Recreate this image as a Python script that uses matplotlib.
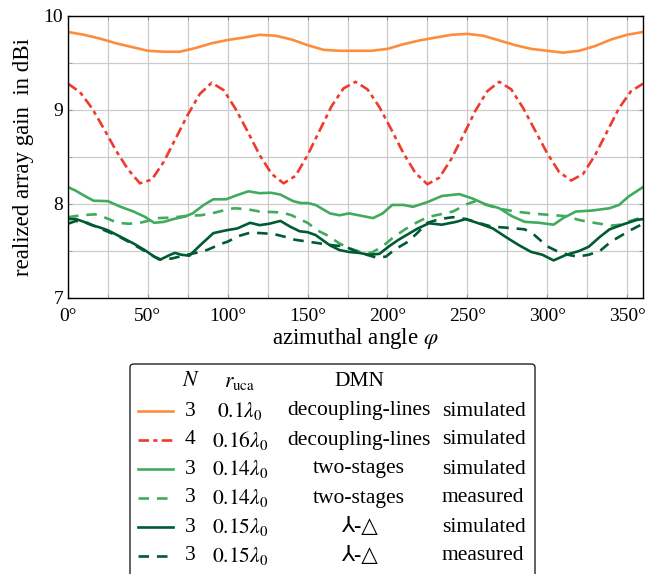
# realized array gain vs azimuthal angle
import numpy as np
import matplotlib
matplotlib.use('Agg')
import matplotlib.pyplot as plt
from matplotlib.lines import Line2D
from matplotlib.patches import FancyBboxPatch
from matplotlib.ticker import MultipleLocator, FuncFormatter

plt.rcParams['font.family'] = ['Liberation Serif', 'DejaVu Serif', 'DejaVu Sans']
plt.rcParams['mathtext.fontset'] = 'stix'

# N=3, 0.1 lambda, decoupling-lines, simulated
phi_orange = [0, 10, 20, 30, 40, 50, 60, 70, 80, 90, 100, 110, 120, 130, 140, 150, 160, 170, 180,
              190, 200, 210, 220, 230, 240, 250, 260, 270, 280, 290, 300, 310, 320, 330, 340, 350, 360]
g_orange = [9.83, 9.80, 9.76, 9.71, 9.67, 9.63, 9.62, 9.62, 9.66, 9.71, 9.745, 9.77, 9.80, 9.79, 9.75,
            9.69, 9.64, 9.63, 9.63, 9.63, 9.65, 9.70, 9.74, 9.77, 9.80, 9.81, 9.79, 9.74, 9.69, 9.65,
            9.63, 9.61, 9.63, 9.68, 9.75, 9.80, 9.83]

# N=4, 0.16 lambda, decoupling-lines, simulated
phi_red = [0, 7.5, 15, 22.5, 30, 37.5, 45, 52.5, 60, 67.5, 75, 82.5, 90, 97.5, 105, 112.5, 120, 127.5,
           135, 142.5, 150, 157.5, 165, 172.5, 180, 187.5, 195, 202.5, 210, 217.5, 225, 232.5, 240,
           247.5, 255, 262.5, 270, 277.5, 285, 292.5, 300, 307.5, 315, 322.5, 330, 337.5, 345, 352.5, 360]
g_red = [9.28, 9.19, 9.02, 8.80, 8.57, 8.37, 8.22, 8.26, 8.45, 8.70, 8.95, 9.17, 9.29, 9.21, 9.01,
         8.77, 8.52, 8.32, 8.22, 8.30, 8.52, 8.78, 9.04, 9.23, 9.30, 9.22, 9.03, 8.79, 8.54, 8.33,
         8.21, 8.28, 8.48, 8.73, 8.99, 9.20, 9.30, 9.22, 9.02, 8.78, 8.54, 8.34, 8.25, 8.32, 8.52,
         8.77, 9.02, 9.20, 9.28]

# N=3, 0.14 lambda, two-stages, simulated
phi_ts_sim = [0, 5, 10, 16, 25, 33, 41, 48, 54, 60, 66, 73, 78, 85, 91, 99, 106, 113, 120, 127, 133,
              141, 146, 150, 155, 164, 170, 176, 182, 191, 197, 203, 210, 216, 225, 234, 245, 253, 261,
              270, 278, 286, 295, 304, 310, 318, 328, 339, 345, 351, 360]
g_ts_sim = [8.18, 8.14, 8.09, 8.035, 8.03, 7.97, 7.92, 7.865, 7.80, 7.81, 7.84, 7.865, 7.90, 7.99,
            8.05, 8.05, 8.095, 8.135, 8.115, 8.12, 8.10, 8.03, 8.01, 8.01, 7.99, 7.90, 7.88, 7.90,
            7.88, 7.85, 7.90, 7.99, 7.99, 7.97, 8.02, 8.085, 8.105, 8.06, 8.00, 7.955, 7.87, 7.81,
            7.80, 7.78, 7.85, 7.92, 7.93, 7.955, 7.99, 8.08, 8.18]

# N=3, 0.14 lambda, two-stages, measured
phi_ts_meas = [0, 8, 17, 24, 31, 38, 45, 50, 56, 65, 75, 83, 90, 97, 104, 112, 120, 127, 134, 140,
               146, 150, 156, 162, 170, 176, 183, 190, 197, 204, 211, 218, 225, 233, 241, 250, 255,
               262, 270, 280, 290, 297, 305, 312, 320, 326, 333, 340, 346, 352, 360]
g_ts_meas = [7.86, 7.88, 7.89, 7.85, 7.80, 7.79, 7.80, 7.82, 7.85, 7.855, 7.875, 7.88, 7.90, 7.93,
             7.955, 7.945, 7.92, 7.915, 7.91, 7.88, 7.83, 7.80, 7.72, 7.67, 7.58, 7.53, 7.49, 7.48,
             7.55, 7.65, 7.73, 7.80, 7.86, 7.89, 7.92, 8.00, 8.03, 7.99, 7.95, 7.92, 7.90, 7.89,
             7.88, 7.87, 7.83, 7.81, 7.79, 7.77, 7.78, 7.82, 7.86]

# N=3, 0.15 lambda, Y-Delta, simulated
phi_yd_sim = [0, 5, 10, 14, 20, 25, 33, 41, 48, 54, 58, 64, 67, 71, 76, 83, 91, 99, 106, 114, 120,
              126, 133, 139, 145, 150, 155, 164, 170, 176, 182, 189, 195, 201, 207, 214, 219, 226,
              234, 243, 249, 257, 266, 274, 282, 290, 297, 304, 312, 320, 326, 333, 339, 347, 356, 360]
g_yd_sim = [7.84, 7.84, 7.81, 7.78, 7.75, 7.72, 7.65, 7.58, 7.51, 7.44, 7.41, 7.46, 7.48, 7.46, 7.45,
            7.565, 7.69, 7.72, 7.74, 7.80, 7.775, 7.79, 7.82, 7.76, 7.71, 7.70, 7.67, 7.56, 7.51,
            7.49, 7.48, 7.46, 7.47, 7.55, 7.62, 7.69, 7.74, 7.795, 7.78, 7.81, 7.84, 7.795, 7.74,
            7.65, 7.565, 7.49, 7.46, 7.40, 7.46, 7.50, 7.545, 7.65, 7.73, 7.78, 7.83, 7.84]

# N=3, 0.15 lambda, Y-Delta, measured
phi_yd_meas = [0, 5, 12, 20, 30, 40, 50, 57, 65, 72, 80, 87, 95, 100, 107, 114, 121, 129, 136, 142,
               150, 158, 166, 173, 180, 187, 193, 199, 205, 212, 218, 225, 233, 241, 249, 257, 265,
               273, 280, 286, 292, 300, 306, 313, 319, 326, 333, 340, 346, 352, 360]
g_yd_meas = [7.79, 7.82, 7.80, 7.74, 7.67, 7.58, 7.48, 7.41, 7.42, 7.45, 7.48, 7.51, 7.57, 7.60,
             7.66, 7.695, 7.69, 7.68, 7.65, 7.62, 7.60, 7.58, 7.56, 7.55, 7.50, 7.46, 7.43, 7.44,
             7.52, 7.59, 7.68, 7.80, 7.84, 7.86, 7.84, 7.80, 7.76, 7.75, 7.74, 7.73, 7.67, 7.55,
             7.50, 7.46, 7.44, 7.46, 7.50, 7.60, 7.66, 7.72, 7.79]

c_orange = '#fd8d3c'
c_red = '#ef3b2c'
c_light = '#41ab5d'
c_dark = '#005a32'
lw = 1.9

series = [
    (phi_orange, g_orange, c_orange, '-', '3', r'$0.1\lambda_0$', 'decoupling-lines', 'simulated'),
    (phi_red, g_red, c_red, (0, (4, 1.6, 1.6, 1.6)), '4', r'$0.16\lambda_0$', 'decoupling-lines', 'simulated'),
    (phi_ts_sim, g_ts_sim, c_light, '-', '3', r'$0.14\lambda_0$', 'two-stages', 'simulated'),
    (phi_ts_meas, g_ts_meas, c_light, (0, (4, 3)), '3', r'$0.14\lambda_0$', 'two-stages', 'measured'),
    (phi_yd_sim, g_yd_sim, c_dark, '-', '3', r'$0.15\lambda_0$', '⅄-△', 'simulated'),
    (phi_yd_meas, g_yd_meas, c_dark, (0, (4, 3)), '3', r'$0.15\lambda_0$', '⅄-△', 'measured'),
]

fig = plt.figure(figsize=(6.45, 5.74), dpi=100)
ax = fig.add_axes([68/645, 276/574, 575/645, 282/574])

for phi, g, c, ls, *_ in series:
    ax.plot(phi, g, color=c, linestyle=ls, linewidth=lw)

ax.set_xlim(0, 360)
ax.set_ylim(7, 10)
ax.xaxis.set_major_locator(MultipleLocator(50))
ax.xaxis.set_minor_locator(MultipleLocator(25))
ax.yaxis.set_major_locator(MultipleLocator(1))
ax.yaxis.set_minor_locator(MultipleLocator(0.5))
ax.xaxis.set_major_formatter(FuncFormatter(lambda v, p: f'{v:.0f}°'))
ax.grid(True, which='both', color='#cccccc', linewidth=0.9)
ax.set_axisbelow(True)
ax.tick_params(which='both', direction='in', labelsize=14, color='#999999', length=3,
               top=True, right=True)
ax.tick_params(axis='x', pad=7)
for s in ax.spines.values():
    s.set_linewidth(1.0)
ax.set_xlabel(r'azimuthal angle $\varphi$', fontsize=16.5, labelpad=1)
ax.set_ylabel('realized array gain  in dBi', fontsize=16.5, labelpad=7)

# legend drawn as a table
box = FancyBboxPatch((130/645, -0.05), 405/645, (574-364)/574 + 0.05,
                     boxstyle='round,pad=0,rounding_size=0.006', transform=fig.transFigure,
                     facecolor='white', edgecolor='#222222', linewidth=1.0)
fig.patches.append(box)

def fx(px):
    return px / 645

def fy(py):
    return 1 - py / 574

hdr_y = 382
fs = 15.5
fig.text(fx(191), fy(hdr_y), r'$N$', ha='center', va='center', fontsize=fs)
fig.text(fx(240), fy(hdr_y), r'$r_{\mathrm{uca}}$', ha='center', va='center', fontsize=fs)
fig.text(fx(359), fy(hdr_y), 'DMN', ha='center', va='center', fontsize=fs)

row_y = [411, 440, 469, 498, 527, 556]
for (phi, g, c, ls, n, r, dmn, kind), yy in zip(series, row_y):
    fig.lines.append(Line2D([fx(138), fx(173)], [fy(yy), fy(yy)], transform=fig.transFigure,
                            color=c, linestyle=ls, linewidth=lw))
    fig.text(fx(190), fy(yy), n, ha='center', va='center', fontsize=fs)
    fig.text(fx(240), fy(yy), r, ha='center', va='center', fontsize=fs)
    fig.text(fx(359), fy(yy), dmn, ha='center', va='center', fontsize=fs,
             family=['Liberation Serif', 'DejaVu Sans'])
    fig.text(fx(442), fy(yy), kind, ha='left', va='center', fontsize=fs)

fig.savefig('out.png', dpi=100)
